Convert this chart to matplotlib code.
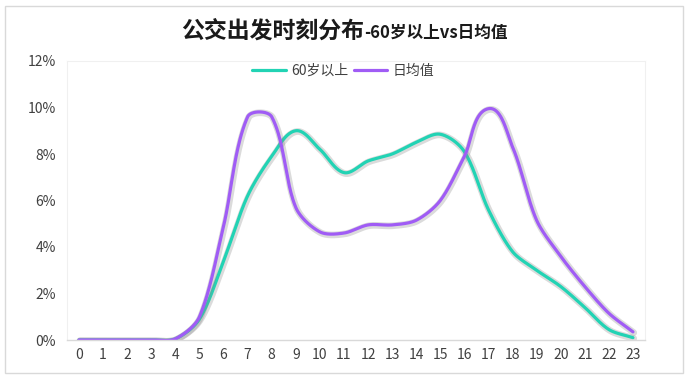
import numpy as np
import matplotlib
matplotlib.use("Agg")
import matplotlib.pyplot as plt
import matplotlib.patheffects as pe
from matplotlib.patches import Rectangle

plt.rcParams['font.family'] = ['Noto Sans CJK SC', 'DejaVu Sans']

hours = list(range(24))
hour_labels = [str(h) for h in hours]
senior = [0, 0, 0, 0, 0.05, 0.9, 3.4, 6.2, 7.9, 9.0, 8.2, 7.2, 7.7, 8.0, 8.5, 8.85,
          8.1, 5.6, 3.8, 3.0, 2.3, 1.4, 0.45, 0.1]
daily = [0, 0, 0, 0, 0.05, 1.0, 4.9, 9.6, 9.6, 5.7, 4.65, 4.6, 4.95, 4.95, 5.15, 6.0,
         7.9, 9.95, 8.3, 5.15, 3.6, 2.3, 1.15, 0.35]
series_names = ['60岁以上', '日均值']
colors = ['#22D3B4', '#A05CF5']
yticks = [0, 2, 4, 6, 8, 10, 12]

SX, SY = 24.1, 23.25  # pixel scale per unit (for length-aware smoothing)


def smooth(x, y, n=40, k=0.3):
    P = np.column_stack([np.asarray(x, float) * SX, np.asarray(y, float) * SY])
    m = len(P)
    out = []
    t = np.linspace(0, 1, n, endpoint=False)[:, None]
    for i in range(m - 1):
        p1, p2 = P[i], P[i + 1]
        p0 = P[i - 1] if i > 0 else p1
        p3 = P[i + 2] if i + 2 < m else p2
        seg = np.linalg.norm(p2 - p1)
        d1 = p2 - p0
        d2 = p3 - p1
        u1 = d1 / (np.linalg.norm(d1) or 1)
        u2 = d2 / (np.linalg.norm(d2) or 1)
        c1 = p1 + u1 * seg * k
        c2 = p2 - u2 * seg * k
        b = ((1 - t) ** 3) * p1 + 3 * ((1 - t) ** 2) * t * c1 + 3 * (1 - t) * t ** 2 * c2 + t ** 3 * p2
        out.append(b)
    out.append(P[-1:])
    B = np.vstack(out)
    return B[:, 0] / SX, B[:, 1] / SY


fig = plt.figure(figsize=(6.9, 3.84), dpi=100)
fig.patch.set_facecolor('white')
fig.add_artist(Rectangle((5 / 690, 1 - 373 / 384), 678 / 690, 367 / 384,
                         transform=fig.transFigure, fill=False,
                         edgecolor='#D9D9D9', linewidth=1.0))

ax = fig.add_axes([67 / 690, 1 - 340 / 384, 578 / 690, 279 / 384])

shadow = [pe.SimpleLineShadow(offset=(0.6, -0.6), shadow_color='#888888', alpha=0.3,
                              linewidth=4.8), pe.Normal()]
for vals, name, c in zip([senior, daily], series_names, colors):
    sx, sy = smooth(hours, vals)
    ax.plot(sx, sy, color=c, linewidth=2.3, label=name, path_effects=shadow,
            solid_capstyle='round')

ax.set_xlim(-0.5, 23.5)
ax.set_ylim(0, 12)
ax.set_xticks(hours)
ax.set_xticklabels(hour_labels)
ax.set_yticks(yticks)
ax.set_yticklabels([f'{v}%' for v in yticks])
ax.tick_params(axis='both', length=0, labelsize=10, labelcolor='#404040')
ax.tick_params(axis='y', pad=8)
ax.tick_params(axis='x', pad=6)
for s in ['top', 'right', 'left']:
    ax.spines[s].set_color('#F0F0F0')
    ax.spines[s].set_linewidth(0.8)
ax.spines['bottom'].set_color('#D9D9D9')
ax.spines['bottom'].set_linewidth(1.0)

leg = ax.legend(loc='center', bbox_to_anchor=(0.478, 0.965), ncol=2, frameon=False,
                fontsize=10, handlelength=2.4, handletextpad=0.4, columnspacing=0.4,
                borderaxespad=0)
for t in leg.get_texts():
    t.set_color('#404040')
for h in leg.get_lines():
    h.set_path_effects([])
    h.set_linewidth(2.3)

fig.text(364 / 690, 1 - 31 / 384, '公交出发时刻分布', ha='right', va='center',
         fontsize=16.5, fontweight='bold', color='#1A1A1A')
fig.text(364 / 690, 1 - 33 / 384, '-60岁以上vs日均值', ha='left', va='center',
         fontsize=12, fontweight='bold', color='#1A1A1A')

fig.savefig('out.png', dpi=100, facecolor='white')
